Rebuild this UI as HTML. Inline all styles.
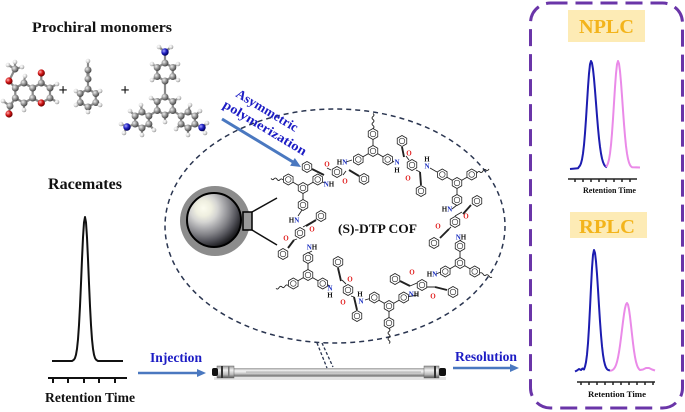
<!DOCTYPE html>
<html><head><meta charset="utf-8"><style>
html,body{margin:0;padding:0;background:#fff;}
svg{display:block;}
text{font-family:"Liberation Serif",serif;font-weight:bold;}
.o{fill:#e01e1e;font-size:7px;text-anchor:middle;}
.n{fill:#1a2fc0;}
.h{fill:#111;}
.lb{font-size:7px;text-anchor:middle;}
</style></head><body>
<svg width="685" height="412" viewBox="0 0 685 412" xmlns="http://www.w3.org/2000/svg">
<defs>
 <radialGradient id="gC" cx="35%" cy="35%" r="65%"><stop offset="0" stop-color="#eeeeee"/><stop offset="0.5" stop-color="#9a9a9a"/><stop offset="1" stop-color="#4a4a4a"/></radialGradient>
 <radialGradient id="gH" cx="35%" cy="35%" r="65%"><stop offset="0" stop-color="#ffffff"/><stop offset="0.6" stop-color="#dcdcdc"/><stop offset="1" stop-color="#9a9a9a"/></radialGradient>
 <radialGradient id="gO" cx="35%" cy="35%" r="65%"><stop offset="0" stop-color="#ffb0b0"/><stop offset="0.5" stop-color="#d41818"/><stop offset="1" stop-color="#700000"/></radialGradient>
 <radialGradient id="gN" cx="35%" cy="35%" r="65%"><stop offset="0" stop-color="#a8a8ff"/><stop offset="0.5" stop-color="#2424c4"/><stop offset="1" stop-color="#000060"/></radialGradient>
 <radialGradient id="gBead" cx="0.33" cy="0.3" r="0.8" fx="0.3" fy="0.28"><stop offset="0" stop-color="#fcfcf0"/><stop offset="0.18" stop-color="#efefe0"/><stop offset="0.32" stop-color="#d4d4d2"/><stop offset="0.46" stop-color="#ababae"/><stop offset="0.6" stop-color="#838388"/><stop offset="0.74" stop-color="#55555c"/><stop offset="0.88" stop-color="#26262a"/><stop offset="1" stop-color="#050505"/></radialGradient>
 <linearGradient id="gTube" x1="0" y1="0" x2="0" y2="1"><stop offset="0" stop-color="#b0b0b0"/><stop offset="0.3" stop-color="#f6f6f6"/><stop offset="0.6" stop-color="#cfcfcf"/><stop offset="1" stop-color="#666"/></linearGradient>
 <linearGradient id="gFit" x1="0" y1="0" x2="0" y2="1"><stop offset="0" stop-color="#9a9a9a"/><stop offset="0.35" stop-color="#f0f0f0"/><stop offset="0.7" stop-color="#bcbcbc"/><stop offset="1" stop-color="#555"/></linearGradient>
 <g id="r"><polygon points="0,-5.5 4.76,-2.75 4.76,2.75 0,5.5 -4.76,2.75 -4.76,-2.75" fill="#fff" stroke="#222" stroke-width="0.8"/><circle r="2.8" fill="none" stroke="#222" stroke-width="0.6"/></g>
</defs>

<rect width="685" height="412" fill="#fff"/>

<!-- Title -->
<text x="32" y="32" font-size="15" fill="#111" textLength="140" lengthAdjust="spacingAndGlyphs">Prochiral monomers</text>

<!-- Molecule 1 -->
<g stroke="#8a8a8a" stroke-width="2.2" fill="none">
 <path d="M24,83 L32.7,88 L32.7,98 L24,103 L15.3,98 L15.3,88 Z M32.7,88 L41.3,83 L50,88 L50,98 L41.3,103 L32.7,98 M41.3,83 L41.3,73 M15.3,88 L9,81 L15,69 M15,69 L8,65 M15,69 L15,62 M15,69 L22,67 M15.3,98 L10,106 L9,114 M10,106 L3,101 M24,83 L25,76 M24,103 L24,110 M50,88 L57,84 M50,98 L57,102"/>
</g>
<g>
 <circle cx="24" cy="83" r="3.5" fill="url(#gC)"/><circle cx="32.7" cy="88" r="3.5" fill="url(#gC)"/><circle cx="32.7" cy="98" r="3.5" fill="url(#gC)"/><circle cx="24" cy="103" r="3.5" fill="url(#gC)"/><circle cx="15.3" cy="98" r="3.5" fill="url(#gC)"/><circle cx="15.3" cy="88" r="3.5" fill="url(#gC)"/>
 <circle cx="41.3" cy="83" r="3.5" fill="url(#gC)"/><circle cx="50" cy="88" r="3.5" fill="url(#gC)"/><circle cx="50" cy="98" r="3.5" fill="url(#gC)"/>
 <circle cx="41.3" cy="103" r="3.6" fill="url(#gO)"/><circle cx="41.3" cy="73" r="3.6" fill="url(#gO)"/><circle cx="9" cy="81" r="3.6" fill="url(#gO)"/><circle cx="9" cy="114" r="3.6" fill="url(#gO)"/>
 <circle cx="15" cy="69" r="3.5" fill="url(#gC)"/><circle cx="10" cy="106" r="3.5" fill="url(#gC)"/>
 <circle cx="8" cy="65" r="2.3" fill="url(#gH)"/><circle cx="15" cy="62" r="2.3" fill="url(#gH)"/><circle cx="22" cy="67" r="2.3" fill="url(#gH)"/><circle cx="3" cy="101" r="2.3" fill="url(#gH)"/><circle cx="25" cy="76" r="2.3" fill="url(#gH)"/><circle cx="24" cy="110" r="2.3" fill="url(#gH)"/><circle cx="57" cy="84" r="2.3" fill="url(#gH)"/><circle cx="57" cy="102" r="2.3" fill="url(#gH)"/>
</g>
<text x="63" y="95" font-size="16" fill="#111" text-anchor="middle">+</text>

<!-- Molecule 2 -->
<g stroke="#8a8a8a" stroke-width="2.2" fill="none">
 <path d="M88,89 L95.8,93.5 L95.8,102.5 L88,107 L80.2,102.5 L80.2,93.5 Z M88,89 L88,79 M88,70 L88,61 M95.8,93.5 L100.1,91 M95.8,102.5 L100.1,105 M88,107 L88,112 M80.2,102.5 L75.9,105 M80.2,93.5 L75.9,91"/>
 <path d="M88,79 L88,70" stroke-width="3.2"/>
</g>
<g>
 <circle cx="88" cy="89" r="3.5" fill="url(#gC)"/><circle cx="95.8" cy="93.5" r="3.5" fill="url(#gC)"/><circle cx="95.8" cy="102.5" r="3.5" fill="url(#gC)"/><circle cx="88" cy="107" r="3.5" fill="url(#gC)"/><circle cx="80.2" cy="102.5" r="3.5" fill="url(#gC)"/><circle cx="80.2" cy="93.5" r="3.5" fill="url(#gC)"/>
 <circle cx="88" cy="79" r="3.5" fill="url(#gC)"/><circle cx="88" cy="70" r="3.5" fill="url(#gC)"/>
 <circle cx="88" cy="61" r="2.3" fill="url(#gH)"/><circle cx="100.1" cy="91" r="2.3" fill="url(#gH)"/><circle cx="100.1" cy="105" r="2.3" fill="url(#gH)"/><circle cx="88" cy="112" r="2.3" fill="url(#gH)"/><circle cx="75.9" cy="105" r="2.3" fill="url(#gH)"/><circle cx="75.9" cy="91" r="2.3" fill="url(#gH)"/>
</g>
<text x="125" y="95" font-size="16" fill="#111" text-anchor="middle">+</text>

<!-- Molecule 3 -->
<g stroke="#8a8a8a" stroke-width="2.2" fill="none">
 <path d="M165,97 L172.8,101.5 L172.8,110.5 L165,115 L157.2,110.5 L157.2,101.5 Z M165,63 L172.8,67.5 L172.8,76.5 L165,81 L157.2,76.5 L157.2,67.5 Z M165,81 L165,97 M165,63 L165,52 M165,52 L159,47 M165,52 L171,47 M172.8,67.5 L178,64 M172.8,76.5 L178,80 M157.2,67.5 L152,64 M157.2,76.5 L152,80 M165,115 L165,122 M157.2,101.5 L151,98 M172.8,101.5 L179,98"/>
 <path d="M181.1,116 L188,112 L194.9,116 L194.9,124 L188,128 L181.1,124 Z M172.8,110.5 L181.1,116 M194.9,124 L202,127.5 L207,123 M202,127.5 L205,133 M188,112 L190,105 M194.9,116 L200,111 M188,128 L188,135 M181.1,124 L176,129"/>
 <path d="M148.9,116 L142,112 L135.1,116 L135.1,124 L142,128 L148.9,124 Z M157.2,110.5 L148.9,116 M135.1,124 L127,127 L121,124 M127,127 L124,133 M142,112 L141,105 M135.1,116 L130,111 M148.9,124 L154,130 M142,128 L142,135"/>
</g>
<g>
 <circle cx="165" cy="97" r="3.5" fill="url(#gC)"/><circle cx="172.8" cy="101.5" r="3.5" fill="url(#gC)"/><circle cx="172.8" cy="110.5" r="3.5" fill="url(#gC)"/><circle cx="165" cy="115" r="3.5" fill="url(#gC)"/><circle cx="157.2" cy="110.5" r="3.5" fill="url(#gC)"/><circle cx="157.2" cy="101.5" r="3.5" fill="url(#gC)"/>
 <circle cx="165" cy="63" r="3.5" fill="url(#gC)"/><circle cx="172.8" cy="67.5" r="3.5" fill="url(#gC)"/><circle cx="172.8" cy="76.5" r="3.5" fill="url(#gC)"/><circle cx="165" cy="81" r="3.5" fill="url(#gC)"/><circle cx="157.2" cy="76.5" r="3.5" fill="url(#gC)"/><circle cx="157.2" cy="67.5" r="3.5" fill="url(#gC)"/>
 <circle cx="181.1" cy="116" r="3.5" fill="url(#gC)"/><circle cx="188" cy="112" r="3.5" fill="url(#gC)"/><circle cx="194.9" cy="116" r="3.5" fill="url(#gC)"/><circle cx="194.9" cy="124" r="3.5" fill="url(#gC)"/><circle cx="188" cy="128" r="3.5" fill="url(#gC)"/><circle cx="181.1" cy="124" r="3.5" fill="url(#gC)"/>
 <circle cx="148.9" cy="116" r="3.5" fill="url(#gC)"/><circle cx="142" cy="112" r="3.5" fill="url(#gC)"/><circle cx="135.1" cy="116" r="3.5" fill="url(#gC)"/><circle cx="135.1" cy="124" r="3.5" fill="url(#gC)"/><circle cx="142" cy="128" r="3.5" fill="url(#gC)"/><circle cx="148.9" cy="124" r="3.5" fill="url(#gC)"/>
 <circle cx="165" cy="52" r="3.7" fill="url(#gN)"/><circle cx="202" cy="127.5" r="3.7" fill="url(#gN)"/><circle cx="127" cy="127" r="3.7" fill="url(#gN)"/>
 <circle cx="159" cy="47" r="2.3" fill="url(#gH)"/><circle cx="171" cy="47" r="2.3" fill="url(#gH)"/><circle cx="178" cy="64" r="2.3" fill="url(#gH)"/><circle cx="178" cy="80" r="2.3" fill="url(#gH)"/><circle cx="152" cy="64" r="2.3" fill="url(#gH)"/><circle cx="152" cy="80" r="2.3" fill="url(#gH)"/>
 <circle cx="165" cy="122" r="2.3" fill="url(#gH)"/><circle cx="151" cy="98" r="2.3" fill="url(#gH)"/><circle cx="179" cy="98" r="2.3" fill="url(#gH)"/>
 <circle cx="207" cy="123" r="2.3" fill="url(#gH)"/><circle cx="205" cy="133" r="2.3" fill="url(#gH)"/><circle cx="190" cy="105" r="2.3" fill="url(#gH)"/><circle cx="200" cy="111" r="2.3" fill="url(#gH)"/><circle cx="188" cy="135" r="2.3" fill="url(#gH)"/><circle cx="176" cy="129" r="2.3" fill="url(#gH)"/>
 <circle cx="121" cy="124" r="2.3" fill="url(#gH)"/><circle cx="124" cy="133" r="2.3" fill="url(#gH)"/><circle cx="141" cy="105" r="2.3" fill="url(#gH)"/><circle cx="130" cy="111" r="2.3" fill="url(#gH)"/><circle cx="154" cy="130" r="2.3" fill="url(#gH)"/><circle cx="142" cy="135" r="2.3" fill="url(#gH)"/>
</g>

<!-- Dashed ellipse -->
<ellipse cx="335" cy="226" rx="170" ry="117" fill="none" stroke="#2a3550" stroke-width="1.5" stroke-dasharray="5 4"/>

<!-- Asymmetric polymerization -->
<g transform="translate(235,96) rotate(31)">
 <text x="0" y="0" font-size="13" fill="#1c1cc4" textLength="70" lengthAdjust="spacingAndGlyphs">Asymmetric</text>
 <text x="-5.5" y="16" font-size="13" fill="#1c1cc4" textLength="95" lengthAdjust="spacingAndGlyphs">polymerization</text>
</g>
<line x1="222" y1="119" x2="293" y2="162" stroke="#4a78c0" stroke-width="3"/>
<polygon points="301,167 290.1,165.7 294.8,158" fill="#4a78c0"/>

<!-- Bead -->
<circle cx="215" cy="221" r="35" fill="#8c8c8c"/>
<circle cx="214" cy="220" r="27" fill="url(#gBead)" stroke="#000" stroke-width="2"/>
<line x1="252" y1="212" x2="277" y2="198" stroke="#111" stroke-width="1.5"/>
<line x1="252" y1="230" x2="277" y2="245" stroke="#111" stroke-width="1.5"/>
<rect x="243" y="212" width="9" height="18" fill="#9a9a9a" stroke="#000" stroke-width="1.5"/>

<!-- COF structure -->
<g stroke="#222" stroke-width="0.9" fill="none">
 <path d="M373,145.5 L373,139.5 M368.2,153.75 L363,156.75 M377.8,153.75 L383,156.75"/>
 <path d="M303,193.5 L303,199.5 M298.2,185.25 L293,182.25 M307.8,185.25 L313,182.25"/>
 <path d="M457,188.5 L457,194.5 M452.2,180.25 L447,177.25 M461.8,180.25 L467,177.25"/>
 <path d="M308,269.5 L308,263.5 M303.2,277.75 L298,280.75 M312.8,277.75 L318,280.75"/>
 <path d="M389,311.5 L389,317.5 M384.2,303.25 L379,300.25 M393.8,303.25 L399,300.25"/>
 <path d="M460,257.5 L460,251.5 M455.2,265.75 L450,268.75 M464.8,265.75 L470,268.75"/>
 <path d="M373,128.5 q2,-1.5 0,-3 q-2,-1.5 0,-3 q2,-1.5 0,-3 q-2,-1.5 0,-3 q2,-1.5 0,-3"/>
 <path d="M283,180 q-1.5,-2 -3,-0.4 q-1.5,2 -3,-0.4 q-1.5,-2 -3,-0.4 q-1.5,2 -3,-0.4"/>
 <path d="M477,173 q1.5,-2.5 3,-1 q1.5,1.5 3,-1 q1.5,-2.5 3,-1 q1.5,1.5 3,-1"/>
 <path d="M288,285.5 q-1.5,-1.5 -3,0.7 q-1.5,2.5 -3,0.7 q-1.5,-1.5 -3,0.7 q-1.5,2.5 -3,0.7"/>
 <path d="M389,328.5 q2,1.5 0,3 q-2,1.5 0,3 q2,1.5 0,3 q-2,1.5 0,3 q2,1.5 0,3"/>
 <path d="M480,273 q1.5,-1 3,1 q1.5,2.5 3,1 q1.5,-1 3,1 q1.5,2.5 3,1"/>
 <path d="M318,180 L325,183 M352,160 L346,162 M392,160.5 L394,162 M430,168 L437,172 M452,209 L457,205 M461,240 L460,241 M298,216 L302,210 M312,251 L308,253 M330,286 L326,284 M365,300 L370,298.5 M418,295 L400,298 M436,274 L441,272"/>
 <path d="M331,170 L327,168 M343,175 L346,171 M409,160 L406,156 M416,170 L420,172 M455,216 L462,212 M451,227 L449,229 M303,227 L310,223 M297,239 L294,240 M346,284 L342,280 M351,296 L354,297 M417,283 L410,286 M427,287 L435,287"/>
</g>
<g stroke="#222" stroke-width="1.9" fill="none">
 <path d="M312,169 L324,175 M349,170 L359,176 M402,147 L404,157 M420,172 L421,185 M471,205 L463,214 M449,229 L440,238 M316,220 L306,226 M294,240 L288,248 M338,268 L341,281 M354,297 L357,310 M400,281 L410,286 M435,287 L447,290"/>
</g>
<g>
 <use href="#r" x="373" y="134"/><use href="#r" x="373" y="151"/><use href="#r" x="358.3" y="159.5"/><use href="#r" x="387.7" y="159.5"/>
 <use href="#r" x="303" y="188"/><use href="#r" x="303" y="205"/><use href="#r" x="288.3" y="179.5"/><use href="#r" x="317.7" y="179.5"/>
 <use href="#r" x="457" y="183"/><use href="#r" x="457" y="200"/><use href="#r" x="442.3" y="174.5"/><use href="#r" x="471.7" y="174.5"/>
 <use href="#r" x="308" y="275"/><use href="#r" x="308" y="258"/><use href="#r" x="293.3" y="283.5"/><use href="#r" x="322.7" y="283.5"/>
 <use href="#r" x="389" y="306"/><use href="#r" x="389" y="323"/><use href="#r" x="374.3" y="297.5"/><use href="#r" x="403.7" y="297.5"/>
 <use href="#r" x="460" y="263"/><use href="#r" x="460" y="246"/><use href="#r" x="445.3" y="271.5"/><use href="#r" x="474.7" y="271.5"/>
 <use href="#r" x="307" y="167"/><use href="#r" x="337" y="172"/><use href="#r" x="364" y="179"/>
 <use href="#r" x="402" y="141"/><use href="#r" x="412" y="165"/><use href="#r" x="421" y="191"/>
 <use href="#r" x="477" y="201"/><use href="#r" x="455" y="222"/><use href="#r" x="434" y="243"/>
 <use href="#r" x="321" y="216"/><use href="#r" x="300" y="233"/><use href="#r" x="283" y="254"/>
 <use href="#r" x="338" y="262"/><use href="#r" x="348" y="290"/><use href="#r" x="357" y="316"/>
 <use href="#r" x="395" y="279"/><use href="#r" x="422" y="285"/><use href="#r" x="453" y="292"/>
</g>
<g>
 <text class="o" x="327" y="166.5">O</text><text class="lb" x="329" y="186.5"><tspan class="n">N</tspan><tspan class="h">H</tspan></text><text class="o" x="345" y="183.5">O</text><text class="lb" x="342" y="164.5"><tspan class="h">H</tspan><tspan class="n">N</tspan></text>
 <text class="lb n" x="397" y="164.5">N</text><text class="lb h" x="397" y="172.5">H</text><text class="o" x="409" y="155.5">O</text><text class="o" x="408" y="180.5">O</text><text class="lb h" x="427" y="161.5">H</text><text class="lb n" x="427" y="168.5">N</text>
 <text class="lb" x="447" y="211.5"><tspan class="h">H</tspan><tspan class="n">N</tspan></text><text class="o" x="466" y="218.5">O</text><text class="o" x="438" y="228.5">O</text><text class="lb" x="461" y="239.5"><tspan class="n">N</tspan><tspan class="h">H</tspan></text>
 <text class="lb" x="294" y="222.5"><tspan class="h">H</tspan><tspan class="n">N</tspan></text><text class="o" x="312" y="231.5">O</text><text class="o" x="286" y="240.5">O</text><text class="lb" x="312" y="249.5"><tspan class="n">N</tspan><tspan class="h">H</tspan></text>
 <text class="lb n" x="330" y="290.5">N</text><text class="lb h" x="330" y="297.5">H</text><text class="o" x="350" y="281.5">O</text><text class="o" x="343" y="304.5">O</text><text class="lb h" x="360" y="296.5">H</text><text class="lb n" x="361" y="303.5">N</text>
 <text class="o" x="412" y="274.5">O</text><text class="lb" x="414" y="296.5"><tspan class="n">N</tspan><tspan class="h">H</tspan></text><text class="lb" x="432" y="276.5"><tspan class="h">H</tspan><tspan class="n">N</tspan></text><text class="o" x="433" y="298.5">O</text>
</g>
<text x="338" y="233" font-size="13" fill="#111" textLength="79" lengthAdjust="spacingAndGlyphs">(S)-DTP COF</text>

<!-- Racemates -->
<text x="48" y="189" font-size="15.5" fill="#111" textLength="74" lengthAdjust="spacingAndGlyphs">Racemates</text>
<path d="M52,361 L72,361 L73,360.4 L74,359.6 L75,358 L76,354.7 L77,348.8 L78,339.3 L79,325.1 L80,306.1 L81,283.4 L82,259.2 L83,237.6 L84,222.4 L85,217 L86,222.4 L87,237.6 L88,259.2 L89,283.4 L90,306.1 L91,325.1 L92,339.3 L93,348.8 L94,354.7 L95,358 L96,359.6 L97,360.4 L98,361 L123,361" fill="none" stroke="#111" stroke-width="2" stroke-linejoin="round"/>
<path d="M48,378 L127,378 M53,378 V383 M68,378 V383 M84,378 V383 M99,378 V383 M115,378 V383" fill="none" stroke="#111" stroke-width="2"/>
<text x="45" y="402" font-size="13.5" fill="#111" textLength="90" lengthAdjust="spacingAndGlyphs">Retention Time</text>

<!-- Injection -->
<text x="150" y="362" font-size="13.5" fill="#1c1cc4" textLength="52" lengthAdjust="spacingAndGlyphs">Injection</text>
<line x1="138" y1="373" x2="198" y2="373" stroke="#4a78c0" stroke-width="2.5"/>
<polygon points="206,373 197,369 197,377" fill="#4a78c0"/>

<!-- Column -->
<rect x="214" y="377" width="232" height="3" fill="#d8d8d8" opacity="0.7"/>
<rect x="233" y="368.5" width="192" height="8" fill="url(#gTube)" stroke="#888" stroke-width="0.5"/>
<line x1="246" y1="372" x2="421" y2="372" stroke="#9a9a9a" stroke-width="0.8"/>
<rect x="217" y="366" width="17" height="12" fill="url(#gFit)" stroke="#666" stroke-width="0.5"/>
<rect x="221" y="366" width="2" height="12" fill="#333"/>
<rect x="228" y="366.5" width="1.5" height="11" fill="#777"/>
<rect x="424" y="366" width="15" height="12" fill="url(#gFit)" stroke="#666" stroke-width="0.5"/>
<rect x="434" y="366" width="2" height="12" fill="#333"/>
<rect x="212" y="368" width="6" height="8" rx="2" fill="#111"/>
<rect x="439" y="368" width="7" height="8" rx="2" fill="#111"/>
<path d="M317,343 L327,368 M322,343 L333,367" stroke="#2a3550" stroke-width="1.3" stroke-dasharray="3 2" fill="none"/>

<!-- Resolution -->
<text x="455" y="361" font-size="13.5" fill="#1c1cc4" textLength="62" lengthAdjust="spacingAndGlyphs">Resolution</text>
<line x1="453" y1="368" x2="511" y2="368" stroke="#4a78c0" stroke-width="2.5"/>
<polygon points="519,368 510,364 510,372" fill="#4a78c0"/>

<!-- Right panel -->
<rect x="530.5" y="3" width="152" height="405" rx="20" ry="20" fill="none" stroke="#6a35a8" stroke-width="3" stroke-dasharray="17 8"/>
<rect x="568" y="10" width="77" height="32" fill="#fdebb5"/>
<text x="606.5" y="33" font-size="20" fill="#f3b41b" text-anchor="middle" textLength="55" lengthAdjust="spacingAndGlyphs">NPLC</text>
<path d="M570,169 L578,168.3 L579,166.8 L580,165.6 L581,163.3 L582,159.5 L583,153.5 L584,144.9 L585,133.2 L586,119 L587,103 L588,87.2 L589,73.6 L590,64.3 L591,61 L592,63.1 L593,69.2 L594,78.6 L595,90.3 L596,103 L597,115.9 L598,127.9 L599,138.3 L600,146.8 L601,153.5 L602,158.5 L603,162 L604,164.4 L605,165.9 L606,166.8 L607,167.4" fill="none" stroke="#1c1cb0" stroke-width="2" stroke-linejoin="round"/>
<path d="M606,166.8 L607,165.6 L608,163.3 L609,159.5 L610,153.5 L611,144.9 L612,133.2 L613,119 L614,103 L615,87.2 L616,73.6 L617,64.3 L618,61 L619,63.6 L620,71.1 L621,82.3 L622,95.9 L623,110.3 L624,124 L625,136.1 L626,146 L627,153.5 L628,158.9 L629,162.6 L630,165 L631,166.4 L632,167.2 L640,167.5" fill="none" stroke="#ea8ae8" stroke-width="2" stroke-linejoin="round"/>
<path d="M568,179 H637 M575,179 v3 M583,179 v3 M591,179 v3 M599,179 v3 M606,179 v3 M614,179 v3 M622,179 v3 M630,179 v3" fill="none" stroke="#222" stroke-width="1.5"/>
<text x="583" y="193" font-size="8" fill="#111" textLength="53" lengthAdjust="spacingAndGlyphs">Retention Time</text>

<rect x="570" y="212" width="77" height="26" fill="#fdebb5"/>
<text x="607" y="233" font-size="20" fill="#f3b41b" text-anchor="middle" textLength="56" lengthAdjust="spacingAndGlyphs">RPLC</text>
<path d="M575,371.5 L577,370.5 L579,369 L581,370 L582.5,368.5 L584,369.5 L585,366.6 L586,362.1 L587,354.6 L588,343.2 L589,327.4 L590,308 L591,287.2 L592,268.2 L593,254.8 L594,250 L595,252.9 L596,261.4 L597,274.1 L598,289.4 L599,305.8 L600,321.3 L601,334.9 L602,346.1 L603,354.7 L604,360.8 L605,364.9 L606,367.6 L607,369.1 L608,369.9 L610,370.5" fill="none" stroke="#1c1cb0" stroke-width="2" stroke-linejoin="round"/>
<path d="M610,370.8 L611,370.6 L612,370.3 L613,369.7 L614,368.7 L615,367.2 L616,365 L617,361.8 L618,357.5 L619,352.1 L620,345.5 L621,337.9 L622,329.7 L623,321.6 L624,314.2 L625,308.2 L626,304.4 L627,303 L628,304.6 L629,309.4 L630,316.5 L631,325.2 L632,334.3 L633,343 L634,350.7 L635,357 L636,361.8 L637,365.2 L638,367.6 L639,369.1 L640,370 L643,369.5 L646,368 L649,368 L652,369.5 L655,370.5" fill="none" stroke="#ea8ae8" stroke-width="2" stroke-linejoin="round"/>
<path d="M577,382 H655 M581,382 v3 M589,382 v3 M597,382 v3 M605,382 v3 M613,382 v3 M621,382 v3 M629,382 v3 M637,382 v3 M645,382 v3 M653,382 v3" fill="none" stroke="#222" stroke-width="1.5"/>
<text x="588" y="397" font-size="8.5" fill="#111" textLength="58" lengthAdjust="spacingAndGlyphs">Retention Time</text>
</svg>
</body></html>
